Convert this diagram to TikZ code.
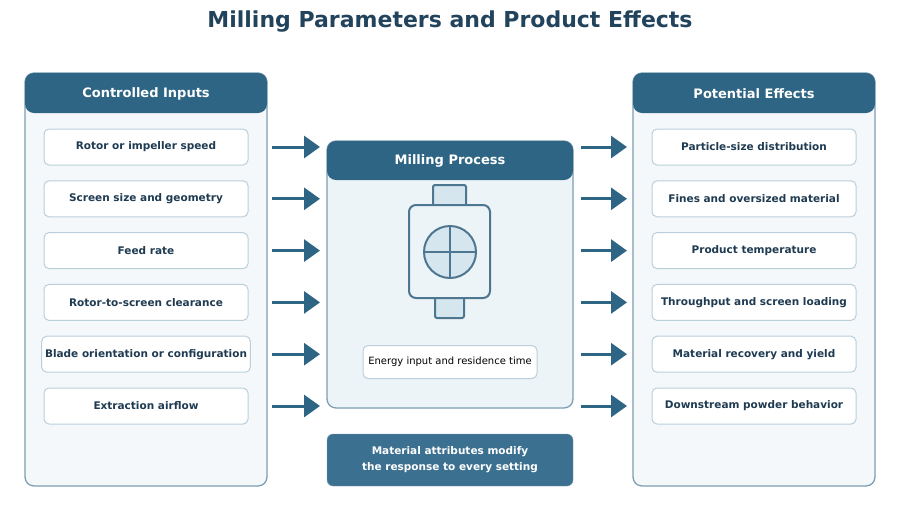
\documentclass[tikz,border=0pt]{standalone}
\usepackage{fontspec}
\setmainfont{DejaVu Sans}
\usetikzlibrary{arrows.meta}
\definecolor{hdr}{HTML}{2E6584}
\definecolor{bord}{HTML}{7D9DB2}
\definecolor{pfill}{HTML}{F4F8FB}
\definecolor{ibord}{HTML}{BACFDB}
\definecolor{txt}{HTML}{1F3B52}
\definecolor{cfill}{HTML}{EDF4F8}
\definecolor{icf}{HTML}{D6E6EF}
\definecolor{icl}{HTML}{4D7690}
\definecolor{bot}{HTML}{3C7090}
\begin{document}
\begin{tikzpicture}[x=1pt,y=-1pt,
 panel/.style={draw=bord,line width=1.3pt,fill=pfill,rounded corners=9pt},
 head/.style={fill=hdr,rounded corners=9pt},
 htext/.style={text=white,font=\fontsize{13}{15}\selectfont\bfseries},
 item/.style={draw=ibord,line width=1pt,fill=white,rounded corners=5pt,minimum width=204pt,minimum height=36pt,font=\fontsize{10.5}{12}\selectfont\bfseries,text=txt},
 arr/.style={draw=hdr,line width=3pt,-{Triangle[length=16pt,width=22pt]}},
 ic/.style={draw=icl,line width=2pt}]
\useasboundingbox (0,0) rectangle (900,504);
\node[font=\fontsize{22}{26}\selectfont\bfseries,text=txt!80!hdr] (title) at (450,22) {Milling Parameters and Product Effects};
% left panel
\draw[panel] (25,73) rectangle (267,486);
\fill[head] (25,73) rectangle (267,113);
\node[htext] (lh) at (146,94) {Controlled Inputs};
% right panel
\draw[panel] (633,73) rectangle (875,486);
\fill[head] (633,73) rectangle (875,113);
\node[htext] (rh) at (754,94) {Potential Effects};
% center
\draw[panel,fill=cfill] (327,141) rectangle (573,408);
\fill[head] (327,141) rectangle (573,180);
\node[htext] (ch) at (450,161) {Milling Process};
\draw[ic,fill=icf,rounded corners=2pt] (433,185) rectangle (466,206);
\draw[ic,fill=icf,rounded corners=2pt] (435,297) rectangle (464,318);
\draw[ic,fill=cfill,rounded corners=7pt] (409,205) rectangle (490,298);
\draw[ic,fill=icf] (450,252) circle (26);
\draw[ic] (424,252) -- (476,252) (450,226) -- (450,278);
\node[draw=ibord,line width=1pt,fill=white,rounded corners=5pt,minimum width=174pt,minimum height=33pt,font=\fontsize{10}{12}\selectfont,text=black] (en) at (450,362) {Energy input and residence time};
\node[fill=bot,draw=bord,rounded corners=6pt,minimum width=246pt,minimum height=52pt,align=center,text=white,font=\fontsize{10.5}{16}\selectfont\bfseries] (mat) at (450,460) {Material attributes modify\\the response to every setting};
\foreach \t [count=\i] in {Rotor or impeller speed,Screen size and geometry,Feed rate,Rotor-to-screen clearance,Blade orientation or configuration,Extraction airflow}{
 \pgfmathsetmacro\yy{147+51.8*(\i-1)}
 \node[item] (l\i) at (146,\yy) {\t};
 \coordinate (la\i) at (272,\yy); \coordinate (lb\i) at (320,\yy);
 \draw[arr] (la\i) -- (lb\i);
}
\foreach \t [count=\i] in {Particle-size distribution,Fines and oversized material,Product temperature,Throughput and screen loading,Material recovery and yield,Downstream powder behavior}{
 \pgfmathsetmacro\yy{147+51.8*(\i-1)}
 \node[item] (r\i) at (754,\yy) {\t};
 \coordinate (ra\i) at (581,\yy); \coordinate (rb\i) at (627,\yy);
 \draw[arr] (ra\i) -- (rb\i);
}
\end{tikzpicture}
\end{document}
